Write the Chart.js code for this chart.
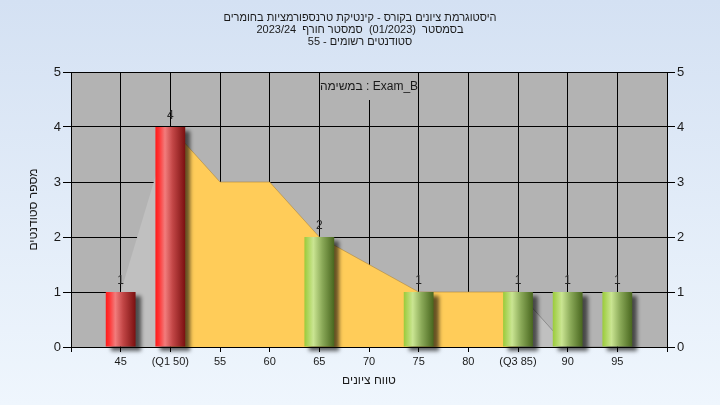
<!DOCTYPE html>
<html><head><meta charset="utf-8">
<script src="https://cdn.jsdelivr.net/npm/chart.js@4.4.0/dist/chart.umd.min.js"></script>
<style>
html,body{margin:0;padding:0;}
body{width:720px;height:405px;background:linear-gradient(#d4e1f3,#eff6fd);overflow:hidden;}
canvas{display:block;}
</style></head><body>
<canvas id="c" width="720" height="405"></canvas>
<script>
// ---- data ----
const binCenters = [45, 50, 55, 60, 65, 70, 75, 80, 85, 90, 95];
const studentCounts = [1, 4, 0, 0, 2, 0, 1, 0, 1, 1, 1];
const curveValues = [1, 4, 3, 3, 2, 1.5, 1, 1, 1, 0, 0];
const xTickValues = [40, 45, 50, 55, 60, 65, 70, 75, 80, 85, 90, 95, 100];
const xTickLabels = ['', '45', '(Q1 50)', '55', '60', '65', '70', '75', '80', '(Q3 85)', '90', '95', ''];
const yTickValues = [0, 1, 2, 3, 4, 5];
const quartile1 = 50, quartile3 = 85;
const titleLines = ['היסטוגרמת ציונים בקורס - קינטיקת טרנספורמציות בחומרים', 'בסמסטר  (01/2023)  סמסטר חורף  2023/24', 'סטודנטים רשומים - 55'];
const xAxisTitle = 'טווח ציונים';
const yAxisTitle = 'מספר סטודנטים';
const taskLabel = 'במשימה : Exam_B';

// ---- helpers ----
const FONT = "'Liberation Sans', 'DejaVu Sans', Arial, sans-serif";
const TXT = '#1a1a1a';
const BAR_RATIO = 0.6;

const barPoints = [];
binCenters.forEach((x, i) => { if (studentCounts[i] > 0) barPoints.push({x: x, y: studentCounts[i]}); });
const curvePoints = binCenters.map((x, i) => ({x: x, y: curveValues[i]}));

function barFill(c) {
  const chart = c.chart, raw = c.raw, xs = chart.scales.x;
  const red = raw && raw.x <= quartile1;
  if (!chart.chartArea || !raw || !xs) return red ? '#d02020' : '#88b040';
  const cx = xs.getPixelForValue(raw.x);
  const half = (xs.getPixelForValue(45) - xs.getPixelForValue(40)) * BAR_RATIO / 2;
  const g = chart.ctx.createLinearGradient(cx - half, 0, cx + half, 0);
  if (red) {
    g.addColorStop(0, '#ff1a1a'); g.addColorStop(0.12, '#ff3434'); g.addColorStop(0.32, '#f27c7c');
    g.addColorStop(0.58, '#c24646'); g.addColorStop(1, '#7a1010');
  } else {
    g.addColorStop(0, '#9acb3a'); g.addColorStop(0.3, '#cae592'); g.addColorStop(0.6, '#8aa958');
    g.addColorStop(1, '#48661e');
  }
  return g;
}
const inside = c => c.p0.parsed.x >= quartile1 && c.p1.parsed.x <= quartile3;

const plotBg = {
  id: 'plotBg',
  beforeDraw(chart) {
    const {ctx, chartArea: a} = chart;
    ctx.save(); ctx.fillStyle = '#b3b3b3';
    ctx.fillRect(a.left, a.top, a.right - a.left, a.bottom - a.top);
    ctx.restore();
  }
};
const taskBox = {
  id: 'taskBox',
  beforeDatasetsDraw(chart) {
    const {ctx, chartArea: a} = chart;
    const cx = (a.left + a.right) / 2;
    ctx.save();
    ctx.fillStyle = '#b3b3b3';
    ctx.fillRect(cx - 46, a.top + 1, 92, 27);
    ctx.fillStyle = TXT; ctx.font = '12px ' + FONT;
    ctx.textAlign = 'center'; ctx.textBaseline = 'middle';
    ctx.fillText(taskLabel, cx, a.top + 14.5);
    ctx.restore();
  }
};
const barShadow = {
  id: 'barShadow',
  beforeDatasetDraw(chart, args) {
    if (args.index !== 0) return;
    const ctx = chart.ctx; ctx.save();
    ctx.shadowColor = 'rgba(0,0,0,0.6)'; ctx.shadowBlur = 4; ctx.shadowOffsetX = 5; ctx.shadowOffsetY = 4;
  },
  afterDatasetDraw(chart, args) { if (args.index === 0) chart.ctx.restore(); }
};
const barValues = {
  id: 'barValues',
  afterDatasetsDraw(chart) {
    const ctx = chart.ctx, meta = chart.getDatasetMeta(0);
    ctx.save(); ctx.fillStyle = '#262626'; ctx.font = '12px ' + FONT;
    ctx.textAlign = 'center'; ctx.textBaseline = 'alphabetic';
    meta.data.forEach((el, i) => { ctx.fillText(String(barPoints[i].y), el.x, el.y - 8); });
    ctx.restore();
  }
};

new Chart(document.getElementById('c'), {
  type: 'bar',
  data: {
    datasets: [
      { type: 'bar', data: barPoints, backgroundColor: barFill, borderWidth: 0,
        barPercentage: BAR_RATIO, categoryPercentage: 1, clip: false, order: 0 },
      { type: 'line', data: curvePoints, fill: 'origin', pointRadius: 0, borderWidth: 1, tension: 0,
        backgroundColor: '#ffcc59', borderColor: '#8a8a8a', order: 1,
        segment: {
          backgroundColor: c => inside(c) ? '#ffcc59' : '#c0c0c0',
          borderColor: c => inside(c) ? 'rgba(175,135,60,0.6)' : (c.p0.parsed.x < quartile1 ? 'rgba(0,0,0,0)' : '#8c8c8c')
        } }
    ]
  },
  options: {
    responsive: false, animation: false, devicePixelRatio: 1,
    layout: { padding: 0 },
    plugins: {
      legend: { display: false }, tooltip: { enabled: false },
      title: { display: true, text: titleLines, color: TXT,
        font: { family: FONT, size: 11, weight: 'normal', lineHeight: '12px' },
        padding: { top: 11.5, bottom: 24.5 } }
    },
    scales: {
      x: { type: 'linear', min: 40, max: 100, offset: false,
        afterBuildTicks: s => { s.ticks = xTickValues.map(v => ({value: v})); },
        ticks: { autoSkip: false, maxRotation: 0, color: TXT, padding: 3,
          font: { family: FONT, size: 11 }, callback: (v, i) => xTickLabels[i] },
        grid: { color: '#000', lineWidth: 1, tickLength: 5, offset: false },
        border: { color: '#000', z: 1 },
        title: { display: true, text: xAxisTitle, color: TXT,
          font: { family: FONT, size: 12 }, padding: { top: 0, bottom: 17 } },
        afterFit: s => { s.height = 58; } },
      y: { position: 'left', min: 0, max: 5,
        afterBuildTicks: s => { s.ticks = yTickValues.map(v => ({value: v})); },
        ticks: { color: TXT, padding: 2, font: { family: FONT, size: 13 } },
        grid: { color: '#000', lineWidth: 1, tickLength: 8 },
        border: { color: '#000', z: 1 },
        title: { display: true, text: yAxisTitle, color: TXT,
          font: { family: FONT, size: 12 }, padding: { top: 26, bottom: 0 } },
        afterFit: s => { s.width = 71; } },
      y2: { position: 'right', min: 0, max: 5,
        afterBuildTicks: s => { s.ticks = yTickValues.map(v => ({value: v})); },
        ticks: { color: TXT, padding: 2, font: { family: FONT, size: 13 } },
        grid: { color: '#000', lineWidth: 1, tickLength: 8, drawOnChartArea: false },
        border: { color: '#000', z: 1 },
        afterFit: s => { s.width = 53; } }
    }
  },
  plugins: [plotBg, taskBox, barShadow, barValues]
});
</script>
</body></html>
